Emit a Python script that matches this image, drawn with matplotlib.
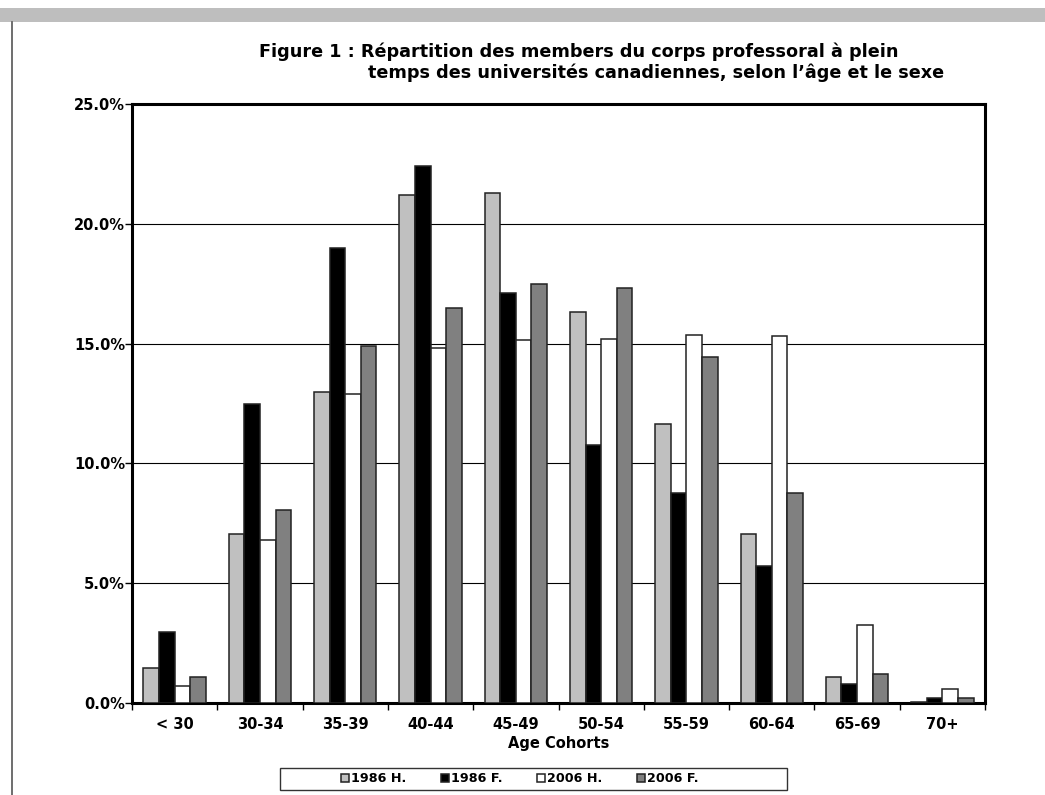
import numpy as np
import matplotlib
matplotlib.use("Agg")
import matplotlib.pyplot as plt
from matplotlib.patches import Rectangle
from matplotlib.lines import Line2D
from matplotlib.ticker import FuncFormatter, FixedLocator

cohorts = ["< 30", "30-34", "35-39", "40-44", "45-49", "50-54", "55-59", "60-64", "65-69", "70+"]
h1986 = [1.45, 7.05, 13.0, 21.2, 21.3, 16.3, 11.65, 7.05, 1.1, 0.05]
f1986 = [2.95, 12.5, 19.0, 22.4, 17.1, 10.75, 8.75, 5.7, 0.8, 0.2]
h2006 = [0.7, 6.8, 12.9, 14.8, 15.15, 15.2, 15.35, 15.3, 3.25, 0.6]
f2006 = [1.1, 8.05, 14.9, 16.5, 17.5, 17.3, 14.45, 8.75, 1.2, 0.2]
series = [("1986 H.", h1986, "#c0c0c0"), ("1986 F.", f1986, "#000000"),
          ("2006 H.", h2006, "#ffffff"), ("2006 F.", f2006, "#808080")]

plt.rcParams['font.family'] = ['DejaVu Sans']
fig = plt.figure(figsize=(10.45, 7.95), dpi=100)

# page decoration: grey band and left rule
fig.add_artist(Rectangle((0, 1 - 22/795), 1, 14/795, transform=fig.transFigure,
                         facecolor="#bebebe", edgecolor="none"))
fig.add_artist(Line2D([12/1045, 12/1045], [0, 1 - 22/795], transform=fig.transFigure,
                      color="#555555", lw=1.2))

ax = fig.add_axes([132/1045, 1 - 703/795, 853/1045, 599/795])
x = np.arange(len(cohorts))
w = 0.183
for i, (name, vals, col) in enumerate(series):
    ax.bar(x + (i - 1.5) * w, vals, w, color=col, edgecolor="#222222", linewidth=1.1,
           label=name, zorder=3)

ax.set_xlim(-0.5, len(cohorts) - 0.5)
ax.set_ylim(0, 25)
ax.set_yticks([0, 5, 10, 15, 20, 25])
ax.yaxis.set_major_formatter(FuncFormatter(lambda v, p: f"{v:.1f}%"))
ax.yaxis.grid(True, color="black", lw=0.8, zorder=0)
ax.set_axisbelow(True)
ax.set_xticks(x)
ax.set_xticklabels(cohorts, fontsize=10.5, fontweight="bold")
ax.xaxis.set_minor_locator(FixedLocator(np.arange(-0.5, len(cohorts), 1.0)))
ax.tick_params(axis="x", which="major", length=0, pad=10)
ax.tick_params(axis="x", which="minor", length=5, width=1, direction="out")
ax.tick_params(axis="y", length=5, width=1, direction="out", pad=0)
for lab in ax.get_yticklabels():
    lab.set_fontweight("bold")
    lab.set_fontsize(10.5)
for s in ax.spines.values():
    s.set_linewidth(2.2)
ax.set_xlabel("Age Cohorts", fontsize=10.5, fontweight="bold", labelpad=3)

fig.text(259/1045, 1 - 52/795, "Figure 1 : Répartition des members du corps professoral à plein",
         fontsize=12.7, fontweight="bold", ha="left", va="center")
fig.text(368/1045, 1 - 73/795, "temps des universités canadiennes, selon l’âge et le sexe",
         fontsize=12.7, fontweight="bold", ha="left", va="center")

# legend box drawn separately, entries centred inside it
fig.add_artist(Rectangle((280/1045, 1 - 790/795), 507/1045, 22/795, transform=fig.transFigure,
                         facecolor="white", edgecolor="#333333", lw=1.0))
leg = fig.legend(loc="center", bbox_to_anchor=(520/1045, 1 - 779/795), ncol=4,
                 prop={"weight": "bold", "size": 9.2}, frameon=False,
                 handlelength=0.6, handleheight=0.6, handletextpad=0.2, columnspacing=2.7,
                 borderpad=0.2)

fig.savefig("out.png", dpi=100)
